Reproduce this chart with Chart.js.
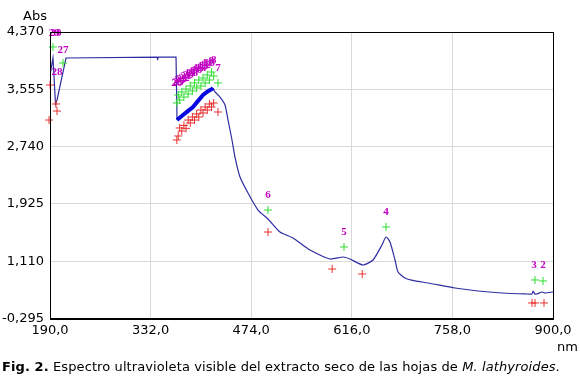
<!DOCTYPE html>
<html><head><meta charset="utf-8">
<script src="https://cdn.jsdelivr.net/npm/chart.js@4"></script>
<style>
body{margin:0;background:#fff;width:580px;height:383px;overflow:hidden;position:relative;font-family:"DejaVu Sans",Verdana,sans-serif;}
#wrap{position:absolute;left:0;top:0;width:580px;height:383px;}
.t{position:absolute;font-size:13px;color:#000;white-space:nowrap;line-height:15px;}
</style></head><body>
<div id="wrap"><canvas id="c" width="580" height="383"></canvas></div>
<div class="t" style="left:23px;top:8px">Abs</div>
<div class="t" style="left:557px;top:339px">nm</div>
<div class="t" style="left:2px;top:359px;letter-spacing:0.1px"><b>Fig. 2.</b> Espectro ultravioleta visible del extracto seco de las hojas de <i>M. lathyroides</i>.</div>
<script>
// ---- data ----
const specWl  = [190, 194.2, 197.8, 199.9, 212.6, 341, 342, 343, 367.9, 369.3];
const specAbs = [3.758, 4.000, 3.346, 3.403, 4.000, 4.014, 3.985, 4.014, 4.014, 3.118];
const thickWl  = [369.3, 377.7, 384.5, 391.8, 399.0, 406.0, 412.5, 418.7, 420.1];
const thickAbs = [3.118, 3.190, 3.245, 3.303, 3.390, 3.474, 3.525, 3.559, 3.574];
const tailWl  = [420.1, 422.9, 430.0, 437.0, 441.3, 446.9, 451.1, 458.2, 469.5, 483.6, 497.7, 514.6, 533.0, 542.9, 557.0, 585.2, 603.6, 613.5, 631.8, 646.0, 658.6, 664.3, 669.9, 677.0, 681.2, 691.1, 705.2, 723.6, 761.7, 794.1, 828.0, 860.5, 870.4, 871.8, 874.6, 877.4, 884.5, 888.7, 900];
const tailAbs = [3.574, 3.517, 3.445, 3.332, 3.118, 2.834, 2.592, 2.308, 2.080, 1.838, 1.710, 1.525, 1.440, 1.369, 1.269, 1.141, 1.170, 1.141, 1.056, 1.127, 1.341, 1.454, 1.383, 1.127, 0.956, 0.871, 0.829, 0.800, 0.729, 0.686, 0.658, 0.644, 0.644, 0.686, 0.644, 0.644, 0.672, 0.658, 0.672];

// peak-pick markers
const clusterWl    = [421, 418, 415, 412, 409, 406, 403, 400, 397, 394, 391, 388, 385, 382, 379, 376, 373, 371, 369];
const clusterText  = ["8","9","10","11","12","13","14","15","16","17","18","19","20","21","22","23","24","25","26"];
const clusterLabel = [3.97, 3.95, 3.93, 3.92, 3.90, 3.89, 3.86, 3.85, 3.83, 3.81, 3.79, 3.78, 3.76, 3.74, 3.72, 3.70, 3.68, 3.66, 3.64];
const clusterGreen = [3.744, 3.801, 3.687, 3.758, 3.645, 3.716, 3.602, 3.687, 3.574, 3.645, 3.531, 3.602, 3.488, 3.559, 3.445, 3.517, 3.403, 3.474, 3.360];
const clusterRed   = [3.360, 3.303, 3.346, 3.261, 3.303, 3.218, 3.261, 3.161, 3.204, 3.118, 3.161, 3.076, 3.118, 2.999, 3.041, 2.962, 3.005, 2.891, 2.834];

const peakText  = ["2", "3", "4", "5", "6", "7", "27", "28", "29", "30"];
const peakWl    = [885.9, 873.2, 664.3, 605.0, 497.7, 427.1, 208.4, 199.9, 196.0, 198.5];
const peakLabel = [1.056, 1.056, 1.810, 1.525, 2.052, 3.858, 4.114, 3.801, 4.356, 4.356];

const greenWl  = [885.9, 874.6, 664.3, 605.0, 497.7, 427.1, 208.4, 194.2];
const greenAbs = [0.829, 0.843, 1.597, 1.312, 1.838, 3.645, 3.929, 4.157];
const redWl  = [887.3, 874.6, 870.4, 630.7, 588.3, 497.7, 427.1, 199.9, 198.5, 190.0, 188.6];
const redAbs = [0.516, 0.516, 0.516, 0.928, 0.999, 1.525, 3.232, 3.246, 3.346, 3.616, 3.118];

const xTicks = [190, 332, 474, 616, 758, 900];
const xTickLabels = ["190,0", "332,0", "474,0", "616,0", "758,0", "900,0"];
const yTicks = [0.295, 1.110, 1.925, 2.740, 3.555, 4.370];
const yTickLabels = ["-0,295", "1,110", "1,925", "2,740", "3,555", "4,370"];

// ---- build ----
const pts = (xs, ys) => xs.map((x, i) => ({x: x, y: ys[i]}));
const allGreenWl = greenWl.concat(clusterWl), allGreenAbs = greenAbs.concat(clusterGreen);
const allRedWl = redWl.concat(clusterWl), allRedAbs = redAbs.concat(clusterRed);
const labelWl = peakWl.concat(clusterWl), labelAbs = peakLabel.concat(clusterLabel), labelText = peakText.concat(clusterText);

const FONT = '"DejaVu Sans", Verdana, sans-serif';

const labelPlugin = {
  id: 'peakLabels',
  afterDatasetsDraw(chart) {
    const ctx = chart.ctx, xs = chart.scales.x, ys = chart.scales.y;
    ctx.save();
    ctx.fillStyle = '#c000c0';
    ctx.font = 'bold 11px "Liberation Serif", serif';
    ctx.textAlign = 'center';
    ctx.textBaseline = 'middle';
    labelWl.forEach((w, i) => {
      ctx.fillText(labelText[i], xs.getPixelForValue(w), ys.getPixelForValue(labelAbs[i]));
    });
    ctx.restore();
  }
};
const boxPlugin = {
  id: 'box',
  afterDraw(chart) {
    const a = chart.chartArea, ctx = chart.ctx;
    ctx.save();
    ctx.strokeStyle = '#000';
    ctx.lineWidth = 1;
    ctx.strokeRect(Math.round(a.left) + 0.5, Math.round(a.top) + 0.5, Math.round(a.right - a.left), Math.round(a.bottom - a.top));
    ctx.restore();
  }
};

new Chart(document.getElementById('c'), {
  type: 'scatter',
  data: {
    datasets: [
      {data: pts(allRedWl, allRedAbs), pointStyle: 'cross', pointRadius: 4, pointBorderWidth: 1, borderColor: '#e83030', backgroundColor: '#e83030', showLine: false, clip: false, order: 1},
      {data: pts(allGreenWl, allGreenAbs), pointStyle: 'cross', pointRadius: 4, pointBorderWidth: 1, borderColor: '#30dd30', backgroundColor: '#30dd30', showLine: false, clip: false, order: 2},
      {data: pts(thickWl, thickAbs), showLine: true, borderColor: '#0a0ae0', borderWidth: 4, pointRadius: 0, tension: 0, order: 3},
      {data: pts(specWl, specAbs), showLine: true, borderColor: '#2e2ea0', borderWidth: 1.2, pointRadius: 0, tension: 0, order: 4},
      {data: pts(tailWl, tailAbs), showLine: true, borderColor: '#2e2ea0', borderWidth: 1.2, pointRadius: 0, tension: 0.2, order: 5}
    ]
  },
  options: {
    responsive: false,
    animation: false,
    events: [],
    layout: {padding: {top: 32, right: 27, left: 0, bottom: 34.5}},
    plugins: {legend: {display: false}, tooltip: {enabled: false}},
    scales: {
      x: {
        type: 'linear', min: 190, max: 900,
        afterBuildTicks: s => { s.ticks = xTicks.map(v => ({value: v})); },
        afterFit: s => { s.height = 30; },
        ticks: {callback: (v, i) => xTickLabels[i], color: '#000', font: {family: FONT, size: 13}, padding: 4, maxRotation: 0, autoSkip: false},
        grid: {color: '#d9d9d9', drawTicks: false, lineWidth: 1},
        border: {color: '#000', width: 1}
      },
      y: {
        type: 'linear', min: 0.295, max: 4.370,
        afterBuildTicks: s => { s.ticks = yTicks.map(v => ({value: v})); },
        afterFit: s => { s.width = 50; },
        ticks: {callback: (v, i) => yTickLabels[i], color: '#000', font: {family: FONT, size: 13}, padding: 6, autoSkip: false},
        grid: {color: '#d9d9d9', drawTicks: false, lineWidth: 1},
        border: {color: '#000', width: 1}
      }
    }
  },
  plugins: [labelPlugin, boxPlugin]
});
</script>
</body></html>
